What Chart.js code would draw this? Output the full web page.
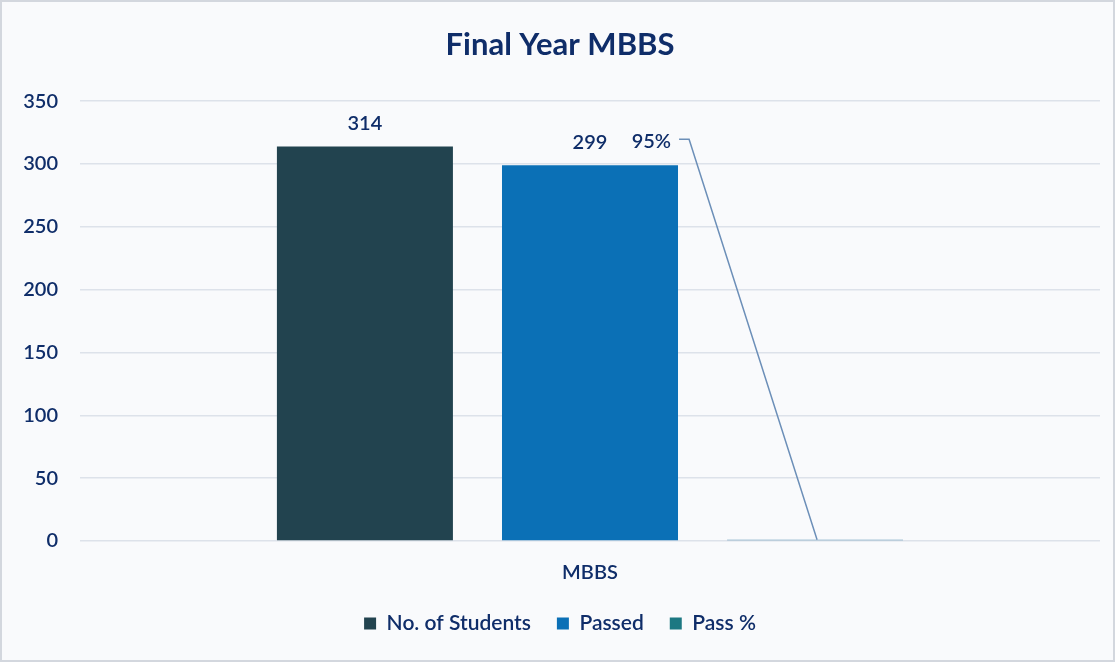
<!DOCTYPE html>
<html>
<head>
<meta charset="utf-8">
<script src="https://cdn.jsdelivr.net/npm/chart.js@4"></script>
<style>
  body { margin: 0; background: #ffffff; }
  #wrap { width: 1115px; height: 662px; }
</style>
</head>
<body>
<div id="wrap"><canvas id="grafico" width="1115" height="662"></canvas></div>
<script>
// dados
const categorias = ['MBBS'];
const alunos = [314];
const aprovados = [299];
const taxaAprovacao = [0.95];
const yTicks = [0, 50, 100, 150, 200, 250, 300, 350];

const azulTexto = '#0f2d69';
const fonte = 'Lato, "Open Sans", sans-serif';

// fundo e borda do quadro
const fundo = {
  id: 'fundo',
  beforeDraw(chart) {
    const ctx = chart.ctx;
    ctx.save();
    ctx.fillStyle = '#f9fafc';
    ctx.fillRect(0, 0, chart.width, chart.height);
    ctx.strokeStyle = '#d3d7de';
    ctx.lineWidth = 2;
    ctx.strokeRect(1, 1, chart.width - 2, chart.height - 2);
    ctx.restore();
  }
};

// rótulos dos valores
const rotulos = {
  id: 'rotulos',
  afterDatasetsDraw(chart) {
    const ctx = chart.ctx;
    ctx.save();
    ctx.font = '600 20px ' + fonte;
    ctx.fillStyle = azulTexto;
    ctx.textBaseline = 'middle';
    chart.data.datasets.forEach((ds, i) => {
      const meta = chart.getDatasetMeta(i);
      meta.data.forEach((bar, j) => {
        const v = ds.data[j];
        if (i < 2) {
          ctx.textAlign = 'center';
          ctx.fillText(String(v), bar.x, bar.y - 23);
        } else {
          // rótulo deslocado com linha guia (como no Excel)
          const ly = chart.scales.y.getPixelForValue(299) - 24;
          ctx.textAlign = 'right';
          ctx.fillText(Math.round(v * 100) + '%', bar.x - 144, ly);
          ctx.strokeStyle = '#6c8fb8';
          ctx.lineWidth = 1.5;
          ctx.beginPath();
          ctx.moveTo(bar.x - 136, ly - 2);
          ctx.lineTo(bar.x - 126, ly - 2);
          ctx.lineTo(bar.x + 2, bar.y);
          ctx.stroke();
        }
      });
    });
    ctx.restore();
  }
};

const ctx = document.getElementById('grafico').getContext('2d');
const grafico = new Chart(ctx, {
  type: 'bar',
  data: {
    labels: categorias,
    datasets: [
      { label: 'No. of Students', data: alunos, backgroundColor: '#22434f' },
      { label: 'Passed', data: aprovados, backgroundColor: '#0b70b6' },
      { label: 'Pass %', data: taxaAprovacao, backgroundColor: '#5b93b5' }
    ]
  },
  options: {
    responsive: false,
    animation: false,
    categoryPercentage: 0.662,
    barPercentage: 0.782,
    layout: { padding: { left: 20, right: 15, top: 20, bottom: 18 } },
    plugins: {
      title: {
        display: true,
        text: 'Final Year MBBS',
        color: azulTexto,
        font: { family: fonte, size: 31, weight: 'bold' },
        padding: { top: 6, bottom: 38 }
      },
      legend: {
        position: 'bottom',
        labels: {
          color: azulTexto,
          font: { family: fonte, size: 21, weight: '600' },
          boxWidth: 12,
          boxHeight: 12,
          padding: 26,
          generateLabels(chart) {
            const cores = ['#22434f', '#0b70b6', '#1d7882'];
            return chart.data.datasets.map((ds, i) => ({
              text: ds.label,
              fillStyle: cores[i],
              strokeStyle: cores[i],
              lineWidth: 0,
              datasetIndex: i,
              fontColor: azulTexto
            }));
          }
        }
      },
      tooltip: { enabled: false }
    },
    scales: {
      x: {
        grid: { display: false },
        border: { display: false },
        ticks: { color: azulTexto, font: { family: fonte, size: 20, weight: '600' }, padding: 12 },
        afterFit(axis) { axis.height -= 10; }
      },
      y: {
        min: 0,
        max: 350,
        afterBuildTicks(axis) { axis.ticks = yTicks.map(v => ({ value: v })); },
        afterFit(axis) { axis.width = 60; },
        grid: { color: '#dde2ea', lineWidth: 1.5, drawTicks: false },
        border: { display: false },
        ticks: { color: azulTexto, font: { family: fonte, size: 20, weight: '600' }, padding: 22 }
      }
    }
  },
  plugins: [fundo, rotulos]
});
</script>
</body>
</html>
